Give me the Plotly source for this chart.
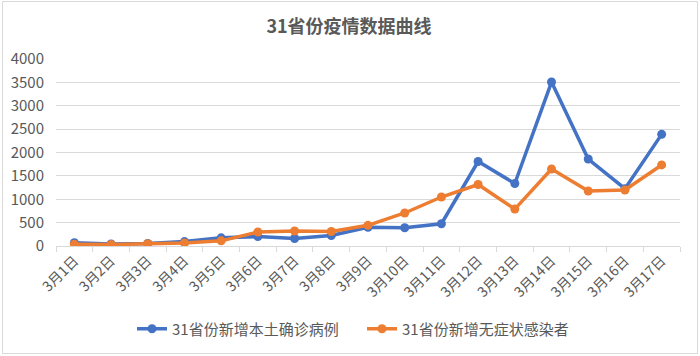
import plotly.graph_objects as go

days = ["3月1日", "3月2日", "3月3日", "3月4日", "3月5日", "3月6日", "3月7日", "3月8日", "3月9日",
        "3月10日", "3月11日", "3月12日", "3月13日", "3月14日", "3月15日", "3月16日", "3月17日"]
confirmed = [70, 45, 55, 95, 175, 202, 160, 223, 400, 391, 476, 1807, 1337, 3507, 1860, 1226, 2388]
asymptomatic = [40, 30, 50, 65, 110, 300, 320, 310, 442, 706, 1048, 1315, 790, 1647, 1176, 1198, 1734]
series_names = ["31省份新增本土确诊病例", "31省份新增无症状感染者"]
y_ticks = [0, 500, 1000, 1500, 2000, 2500, 3000, 3500, 4000]

FONT = "Noto Sans CJK SC, Microsoft YaHei, sans-serif"
GRAY = "#595959"

fig = go.Figure()
fig.add_trace(go.Scatter(x=days, y=confirmed, name=series_names[0], mode="lines+markers",
                         line=dict(color="#4472C4", width=3.5), marker=dict(size=9, color="#4472C4")))
fig.add_trace(go.Scatter(x=days, y=asymptomatic, name=series_names[1], mode="lines+markers",
                         line=dict(color="#ED7D31", width=3.5), marker=dict(size=9, color="#ED7D31")))

L, R, T, B = 56, 20, 59, 110
W, H = 700, 356
pw, ph = W - L - R, H - T - B

def px(x):
    return (x - L) / pw

def py(y):
    return (H - B - y) / ph

fig.update_layout(
    width=W, height=H,
    margin=dict(l=L, r=R, t=T, b=B, autoexpand=False),
    paper_bgcolor="white", plot_bgcolor="white",
    font=dict(family=FONT, color=GRAY, size=12),
    title=dict(text="<b>31省份疫情数据曲线</b>", x=px(349), xref="paper", xanchor="center",
               y=1 - 27 / H, yanchor="middle", font=dict(size=18, color=GRAY, family=FONT)),
    showlegend=True,
    legend=dict(orientation="h", x=px(362), xanchor="center", y=py(329), yanchor="middle",
                font=dict(size=15, color=GRAY, family=FONT), itemwidth=30, entrywidth=185,
                bgcolor="rgba(0,0,0,0)"),
    xaxis=dict(type="category", range=[-0.5, len(days) - 0.5], autorange=False, tickangle=-45,
               showgrid=False, showline=True, linecolor="#d9d9d9", automargin=False,
               linewidth=1, ticks="outside", tickson="boundaries", ticklen=5, tickcolor="#d9d9d9",
               tickfont=dict(size=14, color=GRAY), fixedrange=True),
    yaxis=dict(range=[0, 4000], autorange=False, tickvals=y_ticks, showgrid=True, gridcolor="#d9d9d9",
               gridwidth=1, automargin=False,
               zeroline=False, showline=False, tickfont=dict(size=15, color=GRAY), ticks="",
               ticklabelstandoff=11, fixedrange=True),
    shapes=[dict(type="rect", xref="paper", yref="paper",
                 x0=px(2.5), x1=px(697.5), y0=py(353.5), y1=py(1.5),
                 line=dict(color="#d9d9d9", width=1), layer="below")],
)

fig.write_html("out.html", config={"displayModeBar": False},
               post_script="document.body.style.margin='0';")
